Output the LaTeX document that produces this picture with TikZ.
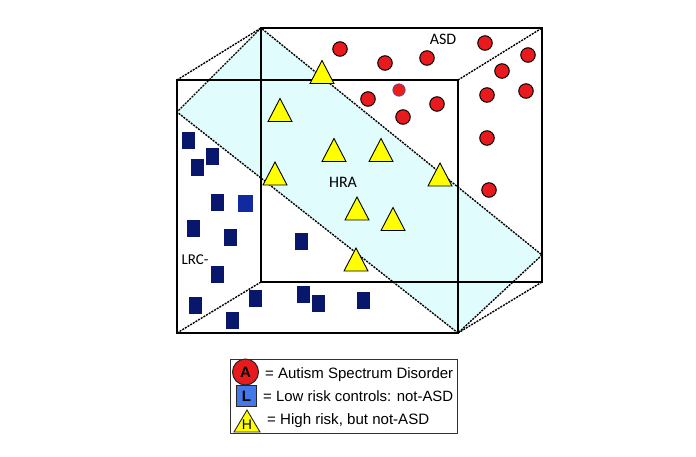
\documentclass[tikz,border=0pt]{standalone}
\usepackage{graphicx}
\usepackage{fontspec}
\setmainfont{Liberation Sans}
\newfontfamily\carl{Carlito}
\definecolor{planecyan}{RGB}{224,252,252}
\definecolor{asdred}{RGB}{232,26,30}
\definecolor{lrcnavy}{RGB}{8,22,108}
\definecolor{lrcblue}{RGB}{16,42,160}
\definecolor{legblue}{RGB}{66,120,232}
\definecolor{triyellow}{RGB}{255,255,0}
\tikzset{
  solidedge/.style={line width=1.8pt, line cap=rect},
  dashedge/.style={line width=1.4pt, dash pattern=on 2pt off 1.1pt},
  asd/.style={circle, fill=asdred, draw=black, line width=1pt, minimum size=14.5pt, inner sep=0pt},
  lrc/.style={rectangle, fill=lrcnavy, draw=none, minimum width=13pt, minimum height=17pt, inner sep=0pt},
  lbl/.style={font=\carl\fontsize{16}{16}\selectfont, inner sep=0pt},
  legtext/.style={font=\fontsize{15}{15}\selectfont, anchor=base west, inner sep=0pt},
  tri/.pic={\draw[fill=triyellow, line width=0.9pt, line join=miter] (-12,11.5) -- (0,-11.5) -- (12,11.5) -- cycle;}
}
\begin{document}
\begin{tikzpicture}[x=1pt,y=-1pt]
\useasboundingbox (0,0) rectangle (696,456);
\fill[white] (0,0) rectangle (696,456);
% corners
\coordinate (FTL) at (177,80);
\coordinate (FTR) at (458,80);
\coordinate (FBR) at (458,333);
\coordinate (FBL) at (177,333);
\coordinate (BTL) at (261,28);
\coordinate (BTR) at (542,28);
\coordinate (BBR) at (542,282);
\coordinate (BBL) at (261,282);
\coordinate (PL) at (177,112);
\coordinate (PR) at (542,255);
% plane
\fill[planecyan] (BTL) -- (PL) -- (FBR) -- (PR) -- cycle;
\draw[dashedge] (BTL) -- (PL) -- (FBR) -- (PR) -- cycle;
% connectors
\draw[dashedge] (FTL) -- (BTL);
\draw[dashedge] (FTR) -- (BTR);
\draw[dashedge] (FBR) -- (BBR);
\draw[dashedge] (FBL) -- (BBL);
% faces
\draw[solidedge] (BTL) rectangle (BBR);
\draw[solidedge] (FTL) rectangle (FBR);
% ASD circles
\node[asd] (a1) at (340,49) {};
\node[asd] (a2) at (385,63) {};
\node[asd] (a3) at (427,58) {};
\node[asd] (a4) at (485,43) {};
\node[asd] (a5) at (528,55) {};
\node[asd] (a6) at (502,71) {};
\node[asd] (a7) at (526,91) {};
\node[asd] (a8) at (487,95) {};
\node[asd] (a9) at (368,99) {};
\node[circle, fill=asdred!95!orange, draw=blue!40!gray, line width=0.6pt, minimum size=12.5pt, inner sep=0pt] (a10) at (399,90) {};
\node[asd] (a11) at (437,104) {};
\node[asd] (a12) at (403,117) {};
\node[asd] (a13) at (487,138) {};
\node[asd] (a14) at (489,190) {};
% LRC squares
\node[lrc] (l1) at (188,140) {};
\node[lrc] (l2) at (212,156) {};
\node[lrc] (l3) at (197,167) {};
\node[lrc] (l4) at (217,202) {};
\node[lrc, fill=lrcblue, minimum width=15pt] (l5) at (245,203) {};
\node[lrc] (l6) at (193,228) {};
\node[lrc] (l7) at (230,237) {};
\node[lrc] (l8) at (217,274) {};
\node[lrc] (l9) at (301,241) {};
\node[lrc] (l10) at (195,305) {};
\node[lrc] (l11) at (255,298) {};
\node[lrc] (l12) at (232,320) {};
\node[lrc] (l13) at (303,294) {};
\node[lrc] (l14) at (318,303) {};
\node[lrc] (l15) at (363,300) {};
% HRA triangles
\pic at (322,72) {tri};
\pic at (280,110) {tri};
\pic at (334,150) {tri};
\pic at (381,150) {tri};
\pic at (440,174.5) {tri};
\pic at (275,173.5) {tri};
\pic at (357,208.5) {tri};
\pic at (393,219) {tri};
\pic at (356,259.5) {tri};
% labels
\node[lbl] (asdlbl) at (443,39) {ASD};
\node[lbl] (hralbl) at (343,182) {HRA};
\node[lbl, font=\carl\fontsize{15}{15}\selectfont] (lrclbl) at (195,260) {LRC-};
% legend
\draw[line width=1pt, draw=black!80] (230,359) rectangle (457,433);
\node[circle, fill=asdred, draw=black!85, line width=1pt, minimum size=26pt, inner sep=0pt, font=\bfseries\fontsize{15}{15}\selectfont] (legA) at (245.5,372) {A};
\node[rectangle, fill=legblue, draw=black!85, line width=1pt, minimum width=20pt, minimum height=21pt, inner sep=0pt, font=\bfseries\fontsize{15}{15}\selectfont] (legL) at (246.5,396) {L};
\draw[fill=triyellow, line width=0.9pt, draw=black!85] (234,432) -- (247,410) -- (260,432) -- cycle;
\node[font=\fontsize{14}{14}\selectfont, inner sep=0pt] (legH) at (247,425) {H};
\node[legtext] (t1) at (265,378) {\resizebox{188pt}{!}{= Autism Spectrum Disorder}};
\node[legtext] (t2) at (263,401) {\resizebox{190pt}{!}{= Low risk controls: not-ASD}};
\node[legtext] (t3) at (267,424) {\resizebox{162pt}{!}{= High risk, but not-ASD}};
\end{tikzpicture}
\end{document}
